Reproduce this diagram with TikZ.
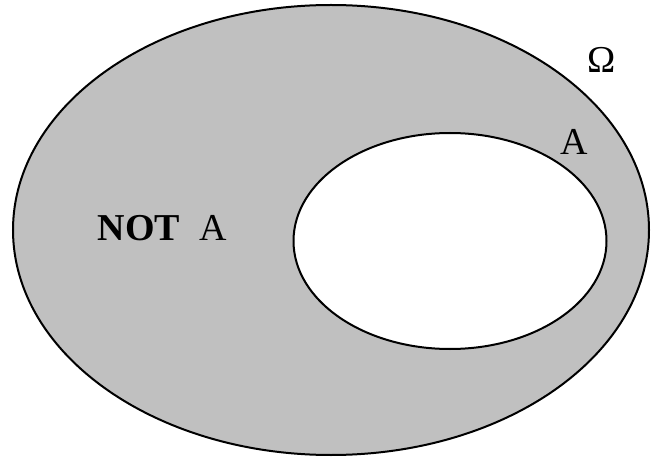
\documentclass[tikz,border=0pt]{standalone}
\usepackage{fontspec}
\setmainfont{Liberation Serif}
\definecolor{shade}{RGB}{192,192,192}
\tikzset{lbl/.style={anchor=base west, inner sep=0pt, font=\fontsize{38}{40}\selectfont}}
\begin{document}
\begin{tikzpicture}[x=1pt,y=-1pt]
	\useasboundingbox (0,0) rectangle (651,457);
	\filldraw[fill=shade, line width=2pt] (331,230) ellipse [x radius=318, y radius=225];
	\filldraw[fill=white, line width=2pt] (450,241) ellipse [x radius=156.5, y radius=108];
	\node[lbl] (omega) at (587,73) {Ω};
	\node[lbl] (a) at (560,155) {A};
	\node[lbl] (nota) at (97.5,241) {\textbf{NOT}\hspace{0.5em}A};
\end{tikzpicture}
\end{document}
